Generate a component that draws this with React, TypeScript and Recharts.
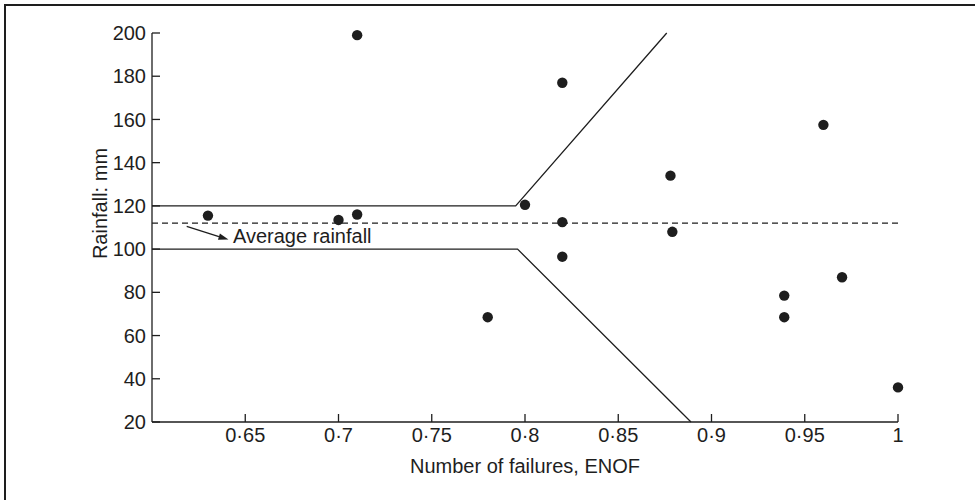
import React from 'react';
import { ComposedChart, Scatter, XAxis, YAxis, ReferenceLine } from 'recharts';

const enof = [0.63, 0.7, 0.71, 0.71, 0.78, 0.8, 0.82, 0.82, 0.82, 0.878, 0.879, 0.939, 0.939, 0.96, 0.97, 1.0];
const rainfall = [115.5, 113.5, 116, 199, 68.5, 120.5, 177, 112.5, 96.5, 134, 108, 78.5, 68.5, 157.5, 87, 36];

const upperX = [0.6, 0.795, 0.876];
const upperY = [120, 120, 200];
const lowerX = [0.6, 0.796, 0.889];
const lowerY = [100, 100, 20];

const averageRainfall = 112;
const arrowFrom = { x: 0.6186, y: 110.5 };
const arrowTo = { x: 0.641, y: 104.4 };
const annotationText = 'Average rainfall';

const xTicks = [0.65, 0.7, 0.75, 0.8, 0.85, 0.9, 0.95, 1];
const yTicks = [20, 40, 60, 80, 100, 120, 140, 160, 180, 200];
const xTitle = 'Number of failures, ENOF';
const yTitle = 'Rainfall: mm';

const points = enof.map((x, i) => ({ x, y: rainfall[i] }));
const upper = upperX.map((x, i) => ({ x, y: upperY[i] }));
const lower = lowerX.map((x, i) => ({ x, y: lowerY[i] }));

const INK = '#1e1e1e';
const FONT = '"Liberation Sans", Arial, Helvetica, sans-serif';
const FS = 20;
const TICK_LEN = 8;
const MARGIN = 6;

const fmt = (v: number) => String(v).replace('.', '\u00b7');

const YTick = (props: any) => {
  const { x, y, payload } = props;
  const ax = x + MARGIN;
  return (
    <g>
      <line x1={ax} x2={ax + TICK_LEN} y1={y} y2={y} stroke={INK} strokeWidth={1.3} />
      <text x={x} y={y} dy="0.355em" textAnchor="end" fontSize={FS} fontFamily={FONT} fill={INK}>
        {payload.value}
      </text>
    </g>
  );
};

const XTick = (props: any) => {
  const { x, y, payload } = props;
  const ay = y - MARGIN;
  return (
    <g>
      <line x1={x} x2={x} y1={ay} y2={ay - TICK_LEN} stroke={INK} strokeWidth={1.3} />
      <text x={x} y={y} dy="0.71em" textAnchor="middle" fontSize={FS} fontFamily={FONT} fill={INK}>
        {fmt(payload.value)}
      </text>
    </g>
  );
};

const Dot = (props: any) => <circle cx={props.cx} cy={props.cy} r={5.2} fill={INK} />;
const NoDot = () => <g />;

const ArrowShape = (props: any) => {
  const { x1, y1, x2, y2 } = props;
  const dx = x2 - x1;
  const dy = y2 - y1;
  const len = Math.sqrt(dx * dx + dy * dy) || 1;
  const ux = dx / len;
  const uy = dy / len;
  const hl = 10;
  const hw = 3.2;
  const bx = x2 - ux * hl;
  const by = y2 - uy * hl;
  const p1 = `${x2},${y2}`;
  const p2 = `${bx - uy * hw},${by + ux * hw}`;
  const p3 = `${bx + uy * hw},${by - ux * hw}`;
  return (
    <g>
      <line x1={x1} y1={y1} x2={bx} y2={by} stroke={INK} strokeWidth={1.3} />
      <polygon points={`${p1} ${p2} ${p3}`} fill={INK} />
      <text x={x2 + 4.5} y={y2 + 3.3} fontSize={FS} fontFamily={FONT} fill={INK}>
        {annotationText}
      </text>
    </g>
  );
};

const YTitle = (props: any) => {
  const vb = props.viewBox || {};
  const cy = (vb.y ?? 33) + (vb.height ?? 389) / 2 - 24;
  const bx = 106.5;
  return (
    <text
      x={bx}
      y={cy}
      transform={`rotate(-90, ${bx}, ${cy})`}
      textAnchor="middle"
      fontSize={FS}
      fontFamily={FONT}
      fill={INK}
    >
      {yTitle}
    </text>
  );
};

const XTitle = (props: any) => {
  const vb = props.viewBox || {};
  const cx = (vb.x ?? 152) + (vb.width ?? 746) / 2;
  return (
    <text x={cx} y={472.7} textAnchor="middle" fontSize={FS} fontFamily={FONT} fill={INK}>
      {xTitle}
    </text>
  );
};

export default function App() {
  return (
    <div style={{ position: 'absolute', left: 0, top: 0, width: 975, height: 500, overflow: 'hidden', background: '#fff' }}>
      <div
        style={{
          position: 'absolute',
          left: 4,
          top: 4,
          width: 1200,
          height: 1200,
          borderLeft: `2px solid ${INK}`,
          borderTop: `2px solid ${INK}`,
        }}
      />
      <div style={{ position: 'absolute', left: 0, top: 0 }}>
        <ComposedChart width={975} height={500} margin={{ top: 33, right: 77, left: 0, bottom: 0 }}>
          <XAxis
            type="number"
            dataKey="x"
            domain={[0.6, 1]}
            ticks={xTicks}
            height={78}
            tickSize={0}
            tickMargin={MARGIN}
            tick={<XTick />}
            tickLine={false}
            axisLine={{ stroke: INK, strokeWidth: 1.3 }}
            label={<XTitle />}
          />
          <YAxis
            type="number"
            dataKey="y"
            domain={[20, 200]}
            ticks={yTicks}
            width={152}
            tickSize={0}
            tickMargin={MARGIN}
            tick={<YTick />}
            tickLine={false}
            axisLine={{ stroke: INK, strokeWidth: 1.3 }}
            label={<YTitle />}
          />
          <ReferenceLine y={averageRainfall} stroke={INK} strokeWidth={1.2} strokeDasharray="6 4" />
          <Scatter
            data={upper}
            line={{ stroke: INK, strokeWidth: 1.3 }}
            shape={NoDot}
            isAnimationActive={false}
            legendType="none"
          />
          <Scatter
            data={lower}
            line={{ stroke: INK, strokeWidth: 1.3 }}
            shape={NoDot}
            isAnimationActive={false}
            legendType="none"
          />
          <ReferenceLine
            segment={[arrowFrom, arrowTo]}
            shape={ArrowShape}
            stroke={INK}
          />
          <Scatter data={points} shape={Dot} isAnimationActive={false} legendType="none" />
        </ComposedChart>
      </div>
    </div>
  );
}
